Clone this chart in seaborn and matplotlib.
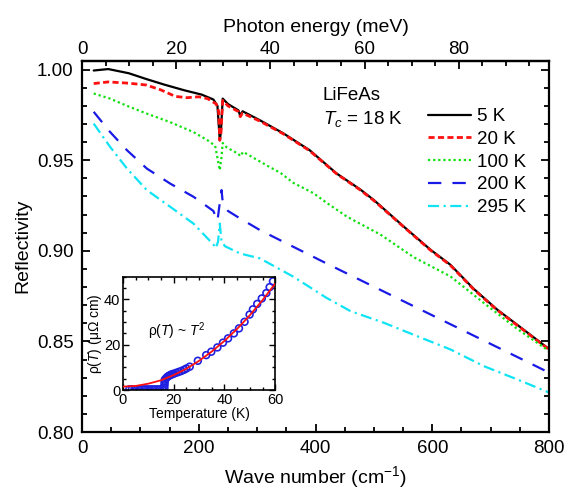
import matplotlib
matplotlib.use("Agg")
import matplotlib.pyplot as plt
import seaborn as sns
from matplotlib.ticker import MultipleLocator, FixedLocator

# reflectivity curves (wave number in cm^-1)
wn_5k = [20, 45, 80, 110, 140, 175, 205, 225, 232, 236, 238, 241, 250, 268, 271, 275, 305,
         345, 390, 436, 476, 500, 551, 597, 631, 671, 711, 756, 800]
r_5k = [0.9995, 1.0003, 0.998, 0.9948, 0.9918, 0.9886, 0.9862, 0.9835, 0.980, 0.961, 0.966,
        0.984, 0.981, 0.9775, 0.9745, 0.977, 0.972, 0.9648, 0.9555, 0.9427, 0.934, 0.928,
        0.9134, 0.9006, 0.8923, 0.879, 0.8676, 0.8566, 0.8458]

wn_20k = [20, 45, 80, 110, 135, 160, 180, 200, 215, 230, 234, 236, 238, 241, 250, 268, 271,
          275, 305, 345, 390, 436, 476, 500, 551, 597, 631, 671, 711, 756, 800]
r_20k = [0.9923, 0.9932, 0.9925, 0.9915, 0.9888, 0.9852, 0.9845, 0.985, 0.984, 0.981, 0.977,
         0.961, 0.965, 0.983, 0.980, 0.9768, 0.974, 0.976, 0.9715, 0.9645, 0.9552, 0.9425,
         0.9337, 0.9277, 0.9132, 0.9003, 0.892, 0.8787, 0.8673, 0.8563, 0.8455]

wn_100k = [20, 48, 77, 111, 151, 191, 215, 228, 236, 239, 241, 248, 268, 271, 276, 316, 340,
           362, 397, 419, 454, 511, 568, 631, 688, 745, 800]
r_100k = [0.9868, 0.984, 0.980, 0.9757, 0.971, 0.9655, 0.961, 0.958, 0.9445, 0.952, 0.9595,
          0.957, 0.9535, 0.9522, 0.9546, 0.9472, 0.943, 0.9375, 0.9317, 0.9265, 0.9188, 0.909,
          0.8965, 0.8859, 0.8713, 0.857, 0.8447]

wn_200k = [20, 48, 77, 111, 151, 191, 225, 232, 235, 239, 241, 250, 270, 305, 362, 419, 460,
           517, 574, 631, 688, 745, 800]
r_200k = [0.9767, 0.9656, 0.9555, 0.9454, 0.9371, 0.9298, 0.922, 0.9165, 0.924, 0.9335, 0.927,
          0.922, 0.918, 0.9114, 0.9022, 0.893, 0.8865, 0.8775, 0.8685, 0.8595, 0.8505, 0.8415,
          0.8328]

wn_295k = [20, 48, 77, 111, 151, 191, 225, 229, 233, 236, 239, 245, 271, 305, 362, 419, 460,
           517, 574, 631, 688, 745, 800]
r_295k = [0.9702, 0.9574, 0.9454, 0.9335, 0.9243, 0.915, 0.9035, 0.9015, 0.905, 0.915, 0.905,
          0.9025, 0.8985, 0.8958, 0.8857, 0.874, 0.8667, 0.8603, 0.8529, 0.8456, 0.8364,
          0.8291, 0.8218]

labels = ["5 K", "20 K", "100 K", "200 K", "295 K"]
mev_ticks = [0, 20, 40, 60, 80]

# inset: resistivity (uOhm cm) vs temperature (K)
t_meas = [2.5, 3.5, 4.5, 5.5, 6.5, 7.5, 8.5, 9.5, 10.5, 11.5, 12.5, 13.5, 14.5, 15.5,
          16.3, 16.3, 16.4, 16.4, 16.5, 17.0, 17.5, 18.0, 18.5, 19.0, 19.5, 20.0, 21.0, 22.0,
          23.0, 24.0, 25.0, 26.3, 29.5, 32.8, 34.8, 37.2, 39.4, 41.4, 43.7, 45.7, 47.9,
          49.9, 51.2, 52.9, 54.7, 56.5, 57.8, 59.1]
rho_meas = [0.3, 0.3, 0.3, 0.3, 0.3, 0.3, 0.3, 0.3, 0.3, 0.3, 0.3, 0.3, 0.3, 0.4,
            0.8, 1.8, 2.8, 3.8, 4.6, 5.2, 5.8, 6.2, 6.5, 6.8, 7.0, 7.2, 7.6, 8.0,
            8.4, 8.9, 9.5, 10.3, 12.9, 15.4, 16.9, 18.8, 20.9, 22.8, 25.0, 27.2, 30.1,
            33.3, 35.6, 38.0, 40.4, 42.8, 45.4, 48.0]
t_fit = [0, 5, 10, 15, 20, 25, 30, 35, 40, 45, 50, 55, 60]
rho_fit = [1.5, 1.8, 2.8, 4.3, 6.6, 9.4, 12.9, 17.0, 21.7, 27.0, 33.0, 39.7, 47.0]

sns.set_style("ticks")
plt.rcParams["font.family"] = ["Liberation Sans", "DejaVu Sans"]
plt.rcParams["mathtext.fontset"] = "custom"
plt.rcParams["mathtext.rm"] = "Liberation Sans"
plt.rcParams["mathtext.it"] = "Liberation Sans:italic"
plt.rcParams.update({"text.color": "black", "axes.labelcolor": "black",
                     "axes.edgecolor": "black", "xtick.color": "black",
                     "ytick.color": "black"})

fig = plt.figure(figsize=(5.68, 4.93), dpi=100)
ax = fig.add_axes([0.1444, 0.1237, 0.8222, 0.7535])

sns.lineplot(x=wn_5k, y=r_5k, ax=ax, color="black", lw=1.6, label=labels[0], errorbar=None)
sns.lineplot(x=wn_20k, y=r_20k, ax=ax, color="#ff1010", lw=2.0, linestyle=(0, (2.2, 1.2)),
             label=labels[1], errorbar=None)
sns.lineplot(x=wn_100k, y=r_100k, ax=ax, color="#10e010", lw=1.6, linestyle=(0, (1, 1.3)),
             label=labels[2], errorbar=None)
sns.lineplot(x=wn_200k, y=r_200k, ax=ax, color="#1a1ae6", lw=1.6, linestyle=(0, (6, 5)),
             label=labels[3], errorbar=None)
sns.lineplot(x=wn_295k, y=r_295k, ax=ax, color="#10e4f4", lw=1.6, linestyle=(0, (5, 2, 1, 2)),
             label=labels[4], errorbar=None)

ax.set_xlim(0, 800)
ax.set_ylim(0.80, 1.005)
ax.xaxis.set_major_locator(MultipleLocator(200))
ax.xaxis.set_minor_locator(MultipleLocator(50))
ax.yaxis.set_major_locator(MultipleLocator(0.05))
ax.yaxis.set_minor_locator(MultipleLocator(0.01))
ax.yaxis.set_major_formatter(plt.FormatStrFormatter("%.2f"))
ax.tick_params(which="both", direction="in", top=False, right=True, width=1.3, labelsize=13.5)
ax.tick_params(which="major", length=6, pad=6)
ax.tick_params(which="minor", length=3.5)
for s in ax.spines.values():
    s.set_linewidth(1.6)
ax.set_xlabel("Wave number (cm$^{-1}$)", fontsize=14, labelpad=5)
ax.set_ylabel("Reflectivity", fontsize=14, labelpad=4)

secax = ax.secondary_xaxis("top", functions=(lambda w: w / 8.0655, lambda e: e * 8.0655))
secax.xaxis.set_major_locator(FixedLocator(mev_ticks))
secax.xaxis.set_minor_locator(FixedLocator(list(range(5, 100, 5))))
secax.tick_params(which="both", direction="in", width=1.3, labelsize=13.5)
secax.tick_params(which="major", length=6, pad=2)
secax.tick_params(which="minor", length=3.5)
secax.spines["top"].set_linewidth(1.6)
secax.set_xlabel("Photon energy (meV)", fontsize=14, labelpad=6)

ax.legend(loc="upper left", bbox_to_anchor=(0.741, 0.872), frameon=False, borderpad=0,
          borderaxespad=0, handlelength=2.3, handletextpad=0.3, labelspacing=0.3,
          fontsize=13.5)
ax.text(0.516, 0.907, "LiFeAs", transform=ax.transAxes, fontsize=13.5, va="center")
ax.text(0.516, 0.842, "$T_c$ = 18 K", transform=ax.transAxes, fontsize=13.5, va="center")

# inset
axin = fig.add_axes([0.2165, 0.2089, 0.2681, 0.2298])
sns.scatterplot(x=t_meas, y=rho_meas, ax=axin, marker="o", s=24, facecolors="none",
                edgecolors="#2020e0", linewidths=1.2, zorder=2)
sns.lineplot(x=t_fit, y=rho_fit, ax=axin, color="#ff1010", lw=1.3, errorbar=None, zorder=3)
axin.set_xlim(0, 60)
axin.set_ylim(0, 50)
axin.xaxis.set_major_locator(MultipleLocator(20))
axin.xaxis.set_minor_locator(MultipleLocator(5))
axin.yaxis.set_major_locator(MultipleLocator(20))
axin.yaxis.set_minor_locator(MultipleLocator(5))
axin.tick_params(which="both", direction="in", top=True, right=True, width=1.0,
                 labelsize=10.5, pad=2)
axin.tick_params(which="major", length=4)
axin.tick_params(which="minor", length=2)
for s in axin.spines.values():
    s.set_linewidth(1.2)
axin.set_xlabel("Temperature (K)", fontsize=10, labelpad=0.5)
axin.set_ylabel("ρ($T$) (μΩ cm)", fontsize=10, labelpad=0)
axin.text(10, 26, "ρ($T$) ~ $T^2$", fontsize=10, va="center")

fig.savefig("out.png", dpi=100)
